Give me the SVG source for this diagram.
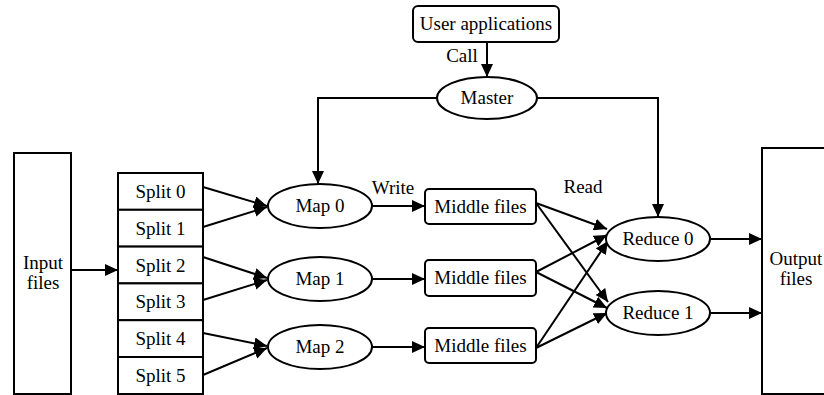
<svg xmlns="http://www.w3.org/2000/svg" width="824" height="395" viewBox="0 0 824 395">
<style>
.s{fill:#fff;stroke:#000;stroke-width:2}
.t{font-family:'Liberation Serif','Times New Roman','DejaVu Serif',serif;font-size:19px;fill:#000;text-anchor:middle}
.c{fill:none;stroke:#000;stroke-width:2;marker-end:url(#ah)}
</style>
<defs>
<marker id="ah" markerUnits="userSpaceOnUse" markerWidth="14" markerHeight="12" refX="13" refY="6" orient="auto">
<path d="M0,0 L13,6 L0,12 z" fill="#000"/>
</marker>
</defs>
<rect width="824" height="395" fill="#fff"/>
<g id="connectors">
<path class="c" d="M487,42 V77"/>
<path class="c" d="M437,98 H318 V184"/>
<path class="c" d="M537,98 H658 V217"/>
<path class="c" d="M71,270 H118"/>
<path class="c" d="M203,187 L267,206"/>
<path class="c" d="M203,227 L267,207"/>
<path class="c" d="M203,257 L267,278"/>
<path class="c" d="M203,300 L267,280"/>
<path class="c" d="M203,333 L267,346"/>
<path class="c" d="M203,375 L267,348"/>
<path class="c" d="M372,206 H425"/>
<path class="c" d="M372,279 H425"/>
<path class="c" d="M372,347 H425"/>
<path class="c" d="M536,203 L607,229"/>
<path class="c" d="M536,203 L608,302"/>
<path class="c" d="M536,272 L607,235"/>
<path class="c" d="M536,272 L607,308"/>
<path class="c" d="M536,348 L608,241"/>
<path class="c" d="M536,348 L607,313"/>
<path class="c" d="M710,239 H762"/>
<path class="c" d="M710,313 H762"/>
<text class="t" x="462" y="62">Call</text>
<text class="t" x="393" y="194">Write</text>
<text class="t" x="583" y="193">Read</text>
</g>
<g id="user-applications">
<rect class="s" x="413" y="6" width="146" height="36" rx="5"/>
<text class="t" x="486" y="30">User applications</text>
</g>
<g id="master">
<ellipse class="s" cx="487" cy="98" rx="50" ry="21"/>
<text class="t" x="487" y="104">Master</text>
</g>
<g id="input-files">
<rect class="s" x="14" y="153" width="57" height="241"/>
<text class="t" x="43" y="269">Input</text>
<text class="t" x="43" y="289">files</text>
</g>
<g id="splits">
<rect class="s" x="118" y="173" width="85" height="36.8"/>
<rect class="s" x="118" y="209.8" width="85" height="36.8"/>
<rect class="s" x="118" y="246.6" width="85" height="36.8"/>
<rect class="s" x="118" y="283.4" width="85" height="36.8"/>
<rect class="s" x="118" y="320.2" width="85" height="36.8"/>
<rect class="s" x="118" y="357" width="85" height="37"/>
<text class="t" x="160.5" y="198">Split 0</text>
<text class="t" x="160.5" y="235">Split 1</text>
<text class="t" x="160.5" y="272">Split 2</text>
<text class="t" x="160.5" y="308">Split 3</text>
<text class="t" x="160.5" y="345">Split 4</text>
<text class="t" x="160.5" y="382">Split 5</text>
</g>
<g id="map0">
<ellipse class="s" cx="320" cy="206" rx="52" ry="22"/>
<text class="t" x="320" y="212">Map 0</text>
</g>
<g id="map1">
<ellipse class="s" cx="320" cy="279" rx="52" ry="22"/>
<text class="t" x="320" y="285">Map 1</text>
</g>
<g id="map2">
<ellipse class="s" cx="320" cy="347" rx="52" ry="22"/>
<text class="t" x="320" y="353">Map 2</text>
</g>
<g id="middle0">
<rect class="s" x="425" y="189" width="111" height="35" rx="4"/>
<text class="t" x="480.5" y="213">Middle files</text>
</g>
<g id="middle1">
<rect class="s" x="425" y="260" width="111" height="36" rx="4"/>
<text class="t" x="480.5" y="284">Middle files</text>
</g>
<g id="middle2">
<rect class="s" x="425" y="328" width="111" height="35" rx="4"/>
<text class="t" x="480.5" y="352">Middle files</text>
</g>
<g id="reduce0">
<ellipse class="s" cx="658" cy="239" rx="52" ry="22"/>
<text class="t" x="658" y="245">Reduce 0</text>
</g>
<g id="reduce1">
<ellipse class="s" cx="658" cy="313" rx="52" ry="22"/>
<text class="t" x="658" y="319">Reduce 1</text>
</g>
<g id="output-files">
<rect class="s" x="762" y="148" width="70" height="246"/>
<text class="t" x="796" y="265">Output</text>
<text class="t" x="796" y="285">files</text>
</g>
</svg>
